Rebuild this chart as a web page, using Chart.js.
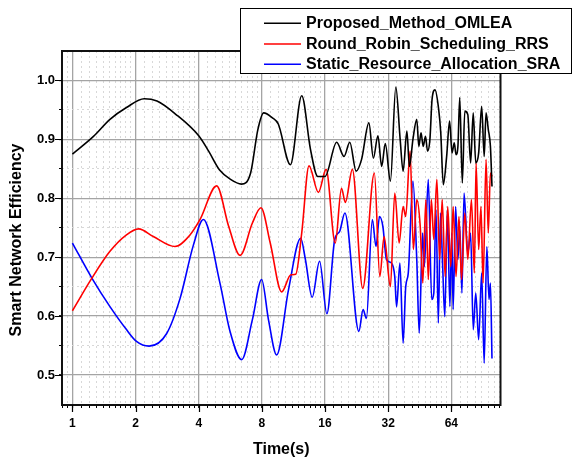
<!DOCTYPE html>
<html><head><meta charset="utf-8">
<script src="https://cdn.jsdelivr.net/npm/chart.js@4.4.1/dist/chart.umd.min.js"></script>
<style>html,body{margin:0;padding:0;background:#fff}canvas{display:block}</style>
</head><body>
<canvas id="c" width="573" height="459"></canvas>
<script>
const seriesNames = ['Proposed_Method_OMLEA', 'Round_Robin_Scheduling_RRS', 'Static_Resource_Allocation_SRA'];
const seriesColors = ['#000000', '#ff0000', '#0000ff'];
const xTitle = 'Time(s)';
const yTitle = 'Smart Network Efficiency';

const omleaTime = [1, 1.26, 1.51, 1.81, 2.2, 2.53, 3.1, 4, 4.46, 5.03, 5.67, 6.39, 7.07, 7.66, 8.16, 8.95, 9.58, 10.94, 12.39, 13.64, 14.78, 16, 18.19, 19.71, 21.0, 22.5, 23.9, 25.9, 27.2, 28.6, 29.8, 31.0, 32.8, 34.8, 36.5, 37.7, 39.3, 40.4, 42.0, 43.8, 44.8, 45.9, 47.0, 48.2, 49.3, 50.6, 51.8, 53.5, 55.7, 57.0, 58.6, 60.8, 62.8, 64.5, 66.1, 67.4, 68.8, 70.2, 72.2, 74.2, 76.7, 79.1, 81.4, 83.7, 86.4, 89.3, 91.8, 93.7, 96.0, 98.3, 100];
const omleaEff = [0.875, 0.905, 0.934, 0.954, 0.969, 0.965, 0.943, 0.906, 0.880, 0.848, 0.832, 0.824, 0.843, 0.917, 0.945, 0.937, 0.926, 0.857, 0.974, 0.883, 0.837, 0.837, 0.895, 0.871, 0.895, 0.846, 0.866, 0.928, 0.868, 0.906, 0.854, 0.893, 0.829, 0.989, 0.900, 0.846, 0.914, 0.854, 0.900, 0.934, 0.888, 0.911, 0.888, 0.905, 0.880, 0.900, 0.968, 0.984, 0.951, 0.911, 0.823, 0.871, 0.931, 0.877, 0.894, 0.874, 0.888, 0.971, 0.826, 0.948, 0.942, 0.860, 0.945, 0.860, 0.877, 0.956, 0.871, 0.945, 0.917, 0.888, 0.820];

const rrsTime = [1, 1.236, 1.51, 1.81, 2.07, 2.43, 3.08, 3.64, 4.06, 4.87, 5.56, 6.3, 7.21, 7.92, 8.77, 9.94, 11.0, 11.6, 12.39, 13.42, 14.88, 16.19, 17.9, 19.17, 20.0, 21.6, 24.2, 27.5, 29.2, 30.6, 32.8, 34.4, 36.1, 37.7, 38.8, 40.7, 42.2, 43.8, 45.5, 46.8, 48.4, 49.7, 51.4, 52.8, 54.6, 56.3, 57.9, 59.8, 61.5, 63.6, 65.3, 67.4, 69.6, 71.6, 74.2, 76.7, 79.8, 82.4, 84.0, 86.4, 88.6, 90.7, 93.7, 96.0, 98.3, 100];
const rrsEff = [0.609, 0.664, 0.710, 0.738, 0.748, 0.735, 0.718, 0.738, 0.764, 0.821, 0.752, 0.703, 0.758, 0.784, 0.724, 0.641, 0.670, 0.671, 0.741, 0.855, 0.810, 0.849, 0.724, 0.817, 0.793, 0.849, 0.647, 0.843, 0.667, 0.735, 0.650, 0.809, 0.724, 0.786, 0.769, 0.880, 0.713, 0.798, 0.752, 0.656, 0.798, 0.662, 0.798, 0.730, 0.832, 0.696, 0.798, 0.667, 0.786, 0.684, 0.786, 0.667, 0.769, 0.662, 0.775, 0.696, 0.798, 0.673, 0.860, 0.713, 0.786, 0.656, 0.866, 0.741, 0.843, 0.837];

const sraTime = [1, 1.24, 1.51, 1.81, 2.02, 2.32, 2.81, 3.26, 3.77, 4.21, 5.05, 5.63, 6.41, 7.21, 7.98, 8.60, 9.41, 10.72, 12.25, 12.9, 13.9, 15.07, 16.33, 17.8, 18.8, 19.9, 23.2, 24.3, 25.2, 26.9, 28.0, 29.1, 30.2, 31.4, 33.2, 34.4, 35.1, 36.4, 37.7, 38.8, 39.9, 42.0, 43.8, 45.0, 46.7, 47.6, 49.7, 51.6, 52.8, 54.1, 55.5, 56.8, 58.2, 59.6, 61.3, 63.0, 64.3, 65.3, 67.1, 68.8, 70.2, 71.9, 73.6, 76.7, 79.1, 81.4, 83.7, 86.4, 89.3, 91.8, 94.5, 96.8, 98.3, 100];
const sraEff = [0.724, 0.664, 0.616, 0.577, 0.557, 0.549, 0.570, 0.630, 0.720, 0.764, 0.656, 0.575, 0.526, 0.594, 0.662, 0.594, 0.534, 0.645, 0.732, 0.696, 0.632, 0.693, 0.604, 0.730, 0.744, 0.775, 0.574, 0.611, 0.596, 0.764, 0.718, 0.769, 0.752, 0.696, 0.690, 0.667, 0.616, 0.690, 0.554, 0.650, 0.673, 0.829, 0.696, 0.571, 0.741, 0.684, 0.832, 0.628, 0.639, 0.781, 0.588, 0.775, 0.684, 0.599, 0.781, 0.616, 0.741, 0.611, 0.786, 0.696, 0.752, 0.639, 0.809, 0.707, 0.741, 0.577, 0.639, 0.560, 0.673, 0.520, 0.718, 0.628, 0.656, 0.528];

const xMajorTicks = [1, 2, 4, 8, 16, 32, 64];
const xMinorTicks = [0.9, 0.95, 1.1, 1.2, 1.3, 1.4, 1.5, 1.6, 1.7, 1.8, 1.9, 2.2, 2.4, 2.6, 2.8, 3, 3.2, 3.4, 3.6, 3.8, 4.4, 4.8, 5.2, 5.6, 6, 6.4, 6.8, 7.2, 7.6, 8.8, 9.6, 10.4, 11.2, 12, 12.8, 13.6, 14.4, 15.2, 17.6, 19.2, 20.8, 22.4, 24, 25.6, 27.2, 28.8, 30.4, 35.2, 38.4, 41.6, 44.8, 48, 51.2, 54.4, 57.6, 60.8, 70.4, 76.8, 83.2, 89.6, 96, 102.4, 108.8];
const yMajorTicks = [0.5, 0.6, 0.7, 0.8, 0.9, 1.0];
const yMinorTicks = [0.55, 0.65, 0.75, 0.85, 0.95];

const FONT = 'Arial, "Liberation Sans", Helvetica, sans-serif';

function pairs(xs, ys) { return xs.map((x, i) => ({x: x, y: ys[i]})); }
function tickList(major, minor) {
  return major.map(v => ({value: v, major: true}))
    .concat(minor.map(v => ({value: v, major: false})))
    .sort((a, b) => a.value - b.value);
}

const decor = {
  id: 'decor',
  afterDatasetsDraw(chart) {
    const {ctx, chartArea: a, scales} = chart;
    ctx.save();
    ctx.strokeStyle = '#111';
    ctx.lineWidth = 2;
    ctx.strokeRect(a.left, a.top, a.right - a.left, a.bottom - a.top);
    ctx.lineWidth = 1.2;
    ctx.strokeStyle = '#000';
    ctx.beginPath();
    xMajorTicks.forEach(v => {
      const x = Math.round(scales.x.getPixelForValue(v)) + 0.5;
      ctx.moveTo(x, a.bottom); ctx.lineTo(x, a.bottom + 7);
    });
    yMajorTicks.forEach(v => {
      const y = Math.round(scales.y.getPixelForValue(v)) + 0.5;
      ctx.moveTo(a.left - 7, y); ctx.lineTo(a.left, y);
    });
    ctx.stroke();
    ctx.restore();
  },
  afterDraw(chart) {
    const ctx = chart.ctx;
    ctx.save();
    ctx.translate(16.5, 240);
    ctx.rotate(-Math.PI / 2);
    ctx.font = 'bold 16px ' + FONT;
    ctx.fillStyle = '#000';
    ctx.textAlign = 'center';
    ctx.textBaseline = 'middle';
    ctx.fillText(yTitle, 0, 0);
    ctx.restore();
    ctx.save();
    ctx.fillStyle = '#fff';
    ctx.fillRect(240, 8, 332, 65);
    ctx.strokeStyle = '#000';
    ctx.lineWidth = 1;
    ctx.strokeRect(240.5, 8.5, 331, 65);
    const rows = [23.3, 44, 64.3];
    ctx.font = 'bold 16px ' + FONT;
    ctx.textBaseline = 'middle';
    ctx.textAlign = 'left';
    seriesNames.forEach((n, i) => {
      ctx.strokeStyle = seriesColors[i];
      ctx.lineWidth = 1.6;
      ctx.beginPath();
      ctx.moveTo(264, rows[i]); ctx.lineTo(301, rows[i]);
      ctx.stroke();
      ctx.fillStyle = '#000';
      ctx.fillText(n, 306, rows[i] + 0.5);
    });
    ctx.restore();
  }
};

const gridColor = c => (c.tick && c.tick.major) ? '#a4a4a4' : '#d8d8d8';
const gridWidth = c => (c.tick && c.tick.major) ? 1.3 : 1;
const gridDash = c => (c.tick && !c.tick.major) ? [2, 3] : [];

new Chart(document.getElementById('c'), {
  type: 'line',
  data: {
    datasets: [
      {label: seriesNames[0], data: pairs(omleaTime, omleaEff), borderColor: seriesColors[0]},
      {label: seriesNames[1], data: pairs(rrsTime, rrsEff), borderColor: seriesColors[1]},
      {label: seriesNames[2], data: pairs(sraTime, sraEff), borderColor: seriesColors[2]}
    ]
  },
  options: {
    responsive: false,
    animation: false,
    devicePixelRatio: 1,
    elements: {
      point: {radius: 0},
      line: {borderWidth: 1.6, cubicInterpolationMode: 'monotone', fill: false}
    },
    layout: {padding: {top: 51, right: 72.5, left: 0, bottom: 0}},
    plugins: {legend: {display: false}, tooltip: {enabled: false}},
    scales: {
      x: {
        type: 'logarithmic',
        min: 0.892,
        max: 109.8,
        afterBuildTicks: s => { s.ticks = tickList(xMajorTicks, xMinorTicks); },
        afterFit: s => { s.height = 54; },
        ticks: {
          autoSkip: false, maxRotation: 0, minRotation: 0, padding: 8,
          color: '#000',
          font: {family: FONT, size: 12, weight: 'bold'},
          callback: (v, i, t) => (t[i] && t[i].major) ? String(v) : ''
        },
        grid: {color: gridColor, lineWidth: gridWidth, tickColor: '#000', tickLength: 3, tickWidth: 1},
        border: {display: false, dash: gridDash},
        title: {display: true, text: xTitle, color: '#000', font: {family: FONT, size: 16, weight: 'bold'}, padding: {top: 0, bottom: 0}}
      },
      y: {
        type: 'linear',
        min: 0.449,
        max: 1.05,
        afterBuildTicks: s => { s.ticks = tickList(yMajorTicks, yMinorTicks); },
        afterFit: s => { s.width = 62; },
        ticks: {
          autoSkip: false, padding: 4,
          color: '#000',
          font: {family: FONT, size: 13, weight: 'bold'},
          callback: (v, i, t) => (t[i] && t[i].major) ? Number(v).toFixed(1) : ''
        },
        grid: {color: gridColor, lineWidth: gridWidth, tickColor: '#000', tickLength: 3, tickWidth: 1},
        border: {display: false, dash: gridDash}
      }
    }
  },
  plugins: [decor]
});
</script>
</body></html>
